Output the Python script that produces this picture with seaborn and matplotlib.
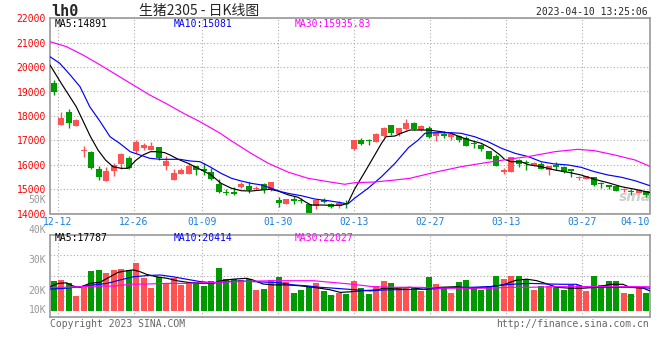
import matplotlib
matplotlib.use("Agg")
import matplotlib.pyplot as plt
import numpy as np
import pandas as pd
import seaborn as sns

# ── Data ──────────────────────────────────────────────────────────────────
OPEN = [19354, 17626, 18170, 17599, 16550, 16525, 15818, 15342, 15722, 16022,
        16294, 16566, 16688, 16600, 16715, 15954, 15384, 15603, 15603, 15959,
        15780, 15699, 15205, 14850, 14836, 15068, 15137, 15010, 15205, 14945,
        14562, 14370, 14614, 14520, 14396, 14301, 14520, 14396, 14301, 14420,
        16640, 17021, 16999, 16912, 17157, 17619, 17238, 17456, 17707, 17435,
        17503, 17163, 17272, 17136, 17190, 17095, 16870, 16823, 16578, 16347,
        15720, 15694, 16211, 16100, 15959, 16041, 15767, 15945, 15904, 15780,
        15440, 15411, 15493, 15230, 15120, 15137, 14960, 14890, 14836, 14904]
HIGH = [19476, 18143, 18293, 17870, 16756, 16550, 15954, 15886, 16050, 16484,
        16348, 17020, 16890, 16920, 16715, 16348, 15822, 15863, 16068, 15959,
        16068, 15863, 15411, 15000, 15082, 15274, 15274, 15110, 15247, 15274,
        14658, 14589, 14709, 14640, 14396, 14573, 14640, 14437, 14505, 14573,
        17021, 17089, 17048, 17293, 17565, 17619, 17510, 17891, 17762, 17639,
        17598, 17299, 17367, 17299, 17231, 17163, 16959, 16864, 16578, 16456,
        15870, 16306, 16238, 16211, 16096, 16096, 15932, 16096, 15959, 15822,
        15548, 15548, 15493, 15274, 15178, 15137, 15041, 15000, 15000, 14904]
LOW = [18837, 17626, 17518, 17599, 16321, 15818, 15382, 15342, 15532, 15804,
       15804, 16484, 16600, 16600, 16185, 15790, 15384, 15603, 15603, 15575,
       15575, 15356, 14836, 14753, 14753, 15027, 14836, 14945, 14836, 14910,
       14246, 14370, 14369, 14437, 14029, 14165, 14410, 14233, 14206, 14233,
       16613, 16817, 16817, 16912, 17130, 17225, 17157, 17429, 17408, 17367,
       17095, 16959, 17095, 17027, 16918, 16755, 16687, 16551, 16252, 15939,
       15600, 15694, 15912, 15776, 15959, 15822, 15562, 15767, 15658, 15479,
       15356, 15411, 15110, 15027, 15000, 14904, 14863, 14767, 14836, 14671]
CLOSE = [18986, 17898, 17708, 17844, 16600, 15872, 15478, 15736, 15968, 16443,
         15858, 16933, 16797, 16760, 16280, 16158, 15658, 15767, 15932, 15767,
         15760, 15397, 14863, 14820, 14815, 15205, 14945, 15030, 14945, 15274,
         14425, 14589, 14505, 14500, 14029, 14573, 14490, 14274, 14437, 14400,
         17021, 16858, 16980, 17238, 17510, 17293, 17510, 17701, 17462, 17571,
         17136, 17299, 17163, 17272, 17027, 16755, 16850, 16646, 16252, 15939,
         15750, 16306, 16048, 16080, 16069, 15822, 15932, 15925, 15699, 15760,
         15465, 15520, 15151, 15210, 15100, 14931, 14985, 14870, 14973, 14767]
VOLUME = [24000, 24300, 23200, 19100, 22100, 27300, 27700, 26800, 27700, 28000,
          27700, 30100, 25100, 21800, 25400, 23200, 25100, 22700, 23600, 23800,
          22400, 24000, 28400, 24700, 24700, 24300, 24600, 21000, 21300, 24300,
          25300, 23600, 20100, 21000, 21900, 23400, 20700, 19300, 20100, 19700,
          24000, 21800, 19700, 22300, 24000, 23400, 21900, 21900, 22100, 20700,
          25400, 23000, 22100, 20100, 23800, 24300, 21900, 21000, 22300, 25800,
          24700, 25800, 25800, 24700, 21000, 22300, 22300, 21900, 21000, 22700,
          22700, 20700, 25800, 22700, 24000, 24000, 20100, 19700, 21600, 20100]

# moving-average lines as drawn (x = candle index)
MA5_X = [-0.5, 1, 3, 4.9, 5.9, 6.9, 7.9, 9, 9.9, 11, 11.9, 12.9, 13.9, 14.8, 15.5,
         16.6, 17.9, 19.7, 21, 22.3, 23.7, 25, 26.3, 27.7, 28.8, 29.9, 31.3, 32.6,
         33.5, 34.3, 35.7, 37, 38.3, 39.2, 40.1, 41.5, 42.8, 43.7, 44.3, 45.5, 46.3,
         47.5, 49.9, 51.7, 53, 54.3, 55.7, 57, 58.3, 59.5, 60.1, 61, 62.3, 63.3, 65,
         66.8, 68.6, 70.3, 72.1, 73.9, 75.7, 77.5, 79.5]
MA5_Y = [20086, 19336, 18377, 17148, 16602, 16193, 15918, 15852, 15852, 16193,
         16398, 16533, 16533, 16492, 16398, 16221, 16057, 15783, 15578, 15238,
         15033, 14934, 14922, 14963, 14992, 14922, 14760, 14664, 14484, 14348,
         14348, 14336, 14336, 14418, 14992, 15713, 16398, 16877, 17148, 17176,
         17287, 17422, 17422, 17352, 17287, 17123, 16984, 16877, 16672, 16398,
         16221, 16123, 16123, 16000, 15918, 15783, 15689, 15578, 15402, 15262,
         15098, 14992, 14860]
MA10_X = [-0.5, 0.8, 2.2, 3.5, 4.8, 6.2, 7.5, 8.8, 10.2, 11.5, 12.8, 14.2, 16.8,
          18.2, 19.5, 20.8, 22.3, 23.7, 25, 26.3, 27.7, 29, 30.3, 31.5, 33, 34.8,
          36.6, 38.3, 39.2, 40.1, 41.9, 43.7, 45.5, 47.3, 48.6, 49.5, 50.8, 53,
          54.3, 56.1, 57.9, 59.7, 61.5, 63.3, 65, 66.8, 68.6, 70.3, 72.1, 73.9,
          75.7, 77.5, 79.5]
MA10_Y = [20426, 20156, 19676, 19197, 18377, 17762, 17148, 16873, 16533, 16398,
          16262, 16221, 16221, 16152, 16123, 15918, 15648, 15443, 15332, 15238,
          15168, 15033, 14893, 14810, 14730, 14594, 14525, 14443, 14389, 14623,
          15033, 15508, 16057, 16700, 17012, 17287, 17311, 17311, 17287, 17148,
          16943, 16672, 16467, 16328, 16123, 16029, 15988, 15893, 15713, 15578,
          15484, 15344, 15139]
MA30_X = [-0.5, 1.7, 3.9, 6.2, 8.4, 10.6, 12.8, 15.1, 17.3, 19.5, 22.2, 23.5, 26.3,
          28.6, 31.3, 33.9, 36.6, 38.8, 40.1, 42.8, 45.5, 47.5, 50.8, 54.3, 57.9,
          60.6, 63.4, 66.8, 69.9, 72.1, 74.8, 77.5, 79.5]
MA30_Y = [21041, 20836, 20496, 20086, 19676, 19266, 18857, 18488, 18107, 17762,
          17287, 17012, 16467, 16057, 15690, 15443, 15303, 15197, 15262, 15291,
          15373, 15443, 15689, 15918, 16098, 16221, 16340, 16533, 16631, 16574,
          16398, 16193, 15930]

VMA5_X = [-0.5, 0.6, 1.7, 2.6, 3.5, 4.8, 6.2, 7.5, 8.6, 9.7, 10.6, 11.5, 12.4, 13.7,
          15.1, 16.4, 17.7, 19.5, 21.3, 22.2, 23.9, 25.7, 26.6, 27.9, 29.3, 31.1,
          32.8, 34.6, 36.8, 38.2, 39.5, 41.3, 43.1, 43.9, 45.7, 47.5, 49.3, 51.5,
          53.7, 55.5, 58.2, 59.9, 61.7, 63.1, 64.4, 65.3, 67.1, 68.8, 70.6, 72.4,
          74.2, 75.9, 76.8, 78.6, 79.5]
VMA5_Y = [22100, 23200, 23400, 22300, 21900, 23200, 23600, 25400, 26900, 27400,
          27700, 27100, 26200, 25400, 24900, 24100, 23600, 23200, 23200, 24100,
          24600, 24900, 24300, 23000, 22700, 22700, 22400, 21900, 21100, 20200,
          20400, 20800, 21000, 21600, 21600, 21900, 21200, 21900, 22100, 21600,
          22100, 22700, 24300, 24600, 24100, 23400, 21900, 21600, 21600, 21900,
          22900, 22900, 21900, 21600, 20700]
VMA10_X = [-0.5, 1.7, 3.5, 5.3, 7.1, 8.8, 10.6, 12.4, 14.2, 15.9, 17.7, 19.5, 21.3,
           23.1, 24.8, 26.6, 28.4, 30.2, 31.9, 33.7, 35.5, 36.8, 39.5, 42.2, 43.9,
           47.5, 50.2, 52.8, 55.5, 58.2, 59.9, 61.7, 63.5, 66.1, 67.9, 69.7, 70.6,
           72.4, 75.9, 77.7, 79.5]
VMA10_Y = [21300, 21600, 22100, 22700, 23200, 24300, 25400, 25800, 26000, 25400,
           24600, 23800, 23400, 23800, 24000, 23800, 23600, 23400, 22700, 22400,
           21900, 21700, 21200, 20700, 21000, 21200, 21300, 21800, 21900, 22100,
           22700, 23000, 23200, 23000, 22900, 22900, 22100, 21900, 21900, 21900,
           21600]
VMA30_X = [-0.5, 1.7, 3.5, 6.2, 7.9, 10.2, 12.4, 15.1, 17.7, 19.5, 22.2, 24.8, 27.5,
           29.3, 31.1, 32.8, 34.6, 36.8, 39.5, 42.6, 45.7, 48.8, 51.5, 55.5, 58.2,
           60.8, 63.5, 67.1, 69.7, 72.4, 75.9, 79.5]
VMA30_Y = [21900, 21900, 22100, 22300, 22300, 22900, 23000, 23200, 23200, 23400,
           23600, 23800, 24000, 24100, 24100, 24100, 24100, 23600, 23000, 22100,
           21900, 21900, 21600, 21600, 21600, 21900, 21900, 22100, 22100, 22100,
           22100, 22100]

DATE_IDX = [1, 11, 20, 30, 40, 50, 60, 70, 79]
DATE_LABELS = ["12-12", "12-26", "01-09", "01-30", "02-13", "02-27", "03-13", "03-27", "04-10"]
PRICE_TICKS = list(range(14000, 22001, 1000))
VOL_LABELS = ["50K", "40K", "30K", "20K", "10K"]
VOL_LABEL_Y = [51000, 41000, 31000, 20800, 14300]
VOL_BASE = 14100

MA_LEGEND = ["MA5:14891", "MA10:15081", "MA30:15935.83"]
VMA_LEGEND = ["MA5:17787", "MA10:20414", "MA30:22027"]

# ── Style ─────────────────────────────────────────────────────────────────
RED, GREEN = "#ff5252", "#009a00"
MA_COLORS = ["#000000", "#0000ff", "#ff00ff"]
FRAME = "#999999"
GRID = "#aaaaaa"
MONO = ["DejaVu Sans Mono", "Noto Sans CJK SC"]

sns.set_style("white")
plt.rcParams["font.family"] = MONO
plt.rcParams["font.size"] = 7

W, H = 660, 360
fig = plt.figure(figsize=(W / 100, H / 100), dpi=100)
ax = fig.add_axes([50 / W, 1 - 213.5 / H, 600 / W, 195.2 / H])
axv = fig.add_axes([50 / W, 1 - 317 / H, 600 / W, 82.3 / H])

x = np.arange(len(OPEN))
o, h, l, c = map(np.asarray, (OPEN, HIGH, LOW, CLOSE))
colors = np.where(c >= o, RED, GREEN)
xticks = [k * 80 / 79 - 0.5 for k in DATE_IDX]
dot = (0, (1, 2))

for a in (ax, axv):
    a.set_xlim(-0.5, 79.5)
    for s in a.spines.values():
        s.set_color(FRAME)
        s.set_linewidth(1.2)
    for xt in xticks:
        a.axvline(xt, color=GRID, lw=0.8, ls=dot, zorder=0)

# ── Price panel ───────────────────────────────────────────────────────────
ax.set_ylim(14000, 22000)
for yv in PRICE_TICKS:
    ax.axhline(yv, color=GRID, lw=0.8, ls=dot, zorder=0)
ax.vlines(x, l, h, colors=colors, lw=1, zorder=2)
body_lo = np.minimum(o, c)
body_h = np.maximum(np.abs(c - o), 50)
ax.bar(x, body_h, bottom=body_lo, width=0.8, color=colors, lw=0, zorder=3)

for xs, ys, col in [(MA5_X, MA5_Y, MA_COLORS[0]), (MA10_X, MA10_Y, MA_COLORS[1]),
                    (MA30_X, MA30_Y, MA_COLORS[2])]:
    sns.lineplot(x=xs, y=ys, ax=ax, color=col, lw=0.85, estimator=None, zorder=4)

ax.set_yticks(PRICE_TICKS)
ax.set_yticklabels([str(v) for v in PRICE_TICKS])
ax.tick_params(axis="y", length=0, pad=3, labelcolor="#ff0000", labelsize=7)
ax.set_xticks(xticks)
ax.set_xticklabels(DATE_LABELS)
ax.tick_params(axis="x", length=0, pad=2.5, labelcolor="#1a80e0", labelsize=7)
ax.get_xticklabels()[-1].set_horizontalalignment("right")
ax.set_xlabel("")
ax.set_ylabel("")

lx = [5 / 600, 124 / 600, 245 / 600]
for t, col, px in zip(MA_LEGEND, MA_COLORS, lx):
    ax.text(px, 0.972, t, color=col, transform=ax.transAxes, va="center", fontsize=7)

ax.text(0.975, 0.085, "sina", transform=ax.transAxes, ha="center", va="center",
        fontsize=10, fontstyle="italic", fontweight="bold", color="#cfcfcf",
        family="DejaVu Sans", zorder=1)

# ── Volume panel ──────────────────────────────────────────────────────────
axv.set_ylim(12000, 39430)
for f in (0.25, 0.5, 0.75):
    axv.plot([0, 1], [f, f], transform=axv.transAxes, color=GRID, lw=0.8, ls=dot, zorder=0)
axv.bar(x, np.asarray(VOLUME) - VOL_BASE, bottom=VOL_BASE, width=0.8,
        color=colors, lw=0, zorder=2)
for xs, ys, col in [(VMA5_X, VMA5_Y, MA_COLORS[0]), (VMA10_X, VMA10_Y, MA_COLORS[1]),
                    (VMA30_X, VMA30_Y, MA_COLORS[2])]:
    sns.lineplot(x=xs, y=ys, ax=axv, color=col, lw=0.85, estimator=None, zorder=4)
axv.set_xticks([])
axv.set_yticks([])
axv.set_xlabel("")
axv.set_ylabel("")
for t, yv in zip(VOL_LABELS, VOL_LABEL_Y):
    axv.text(-4 / 600, yv, t, transform=axv.get_yaxis_transform(), ha="right",
             va="center", color="#999999", fontsize=7, clip_on=False)
for t, col, px in zip(VMA_LEGEND, MA_COLORS, lx):
    axv.text(px, 0.96, t, color=col, transform=axv.transAxes, va="center", fontsize=7)

# ── Header / footer ───────────────────────────────────────────────────────
fig.text(51 / W, 1 - 11 / H, "lh0", fontsize=11, fontweight="bold", va="center",
         family="DejaVu Sans Mono")
fig.text(139 / W, 1 - 11 / H, "生猪2305 - 日K线图", fontsize=10, va="center",
         family=["Noto Sans CJK SC", "DejaVu Sans"])
fig.text(648 / W, 1 - 12 / H, "2023-04-10 13:25:06", fontsize=7, ha="right", va="center")
fig.text(50 / W, 1 - 324 / H, "Copyright 2023 SINA.COM", fontsize=7, color="#666666", va="center")
fig.text(649 / W, 1 - 324 / H, "http://finance.sina.com.cn", fontsize=7, color="#666666",
         ha="right", va="center")

fig.savefig("out.png", dpi=100)
